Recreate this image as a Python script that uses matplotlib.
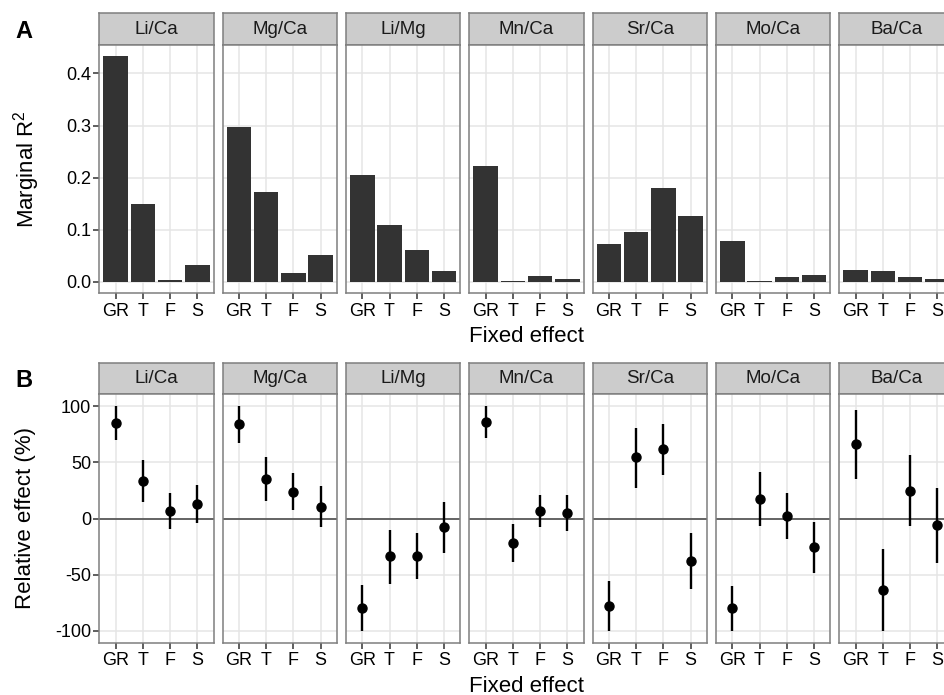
"""
Two rows of faceted panels: marginal R^2 per fixed effect (A) and
relative effect (%) with intervals (B) for seven element ratios.
"""
import matplotlib
matplotlib.use("Agg")
import matplotlib.pyplot as plt

plt.rcParams["font.family"] = ["Liberation Sans", "DejaVu Sans"]
plt.rcParams["axes.unicode_minus"] = False
plt.rcParams["mathtext.fontset"] = "custom"
plt.rcParams["mathtext.rm"] = "Liberation Sans"
plt.rcParams["mathtext.it"] = "Liberation Sans"

ratios = ["Li/Ca", "Mg/Ca", "Li/Mg", "Mn/Ca", "Sr/Ca", "Mo/Ca", "Ba/Ca"]
effects = ["GR", "T", "F", "S"]

# panel A: marginal R2, one row per ratio (GR, T, F, S)
r2_lica = [0.433, 0.149, 0.003, 0.032]
r2_mgca = [0.297, 0.172, 0.017, 0.051]
r2_limg = [0.205, 0.109, 0.061, 0.021]
r2_mnca = [0.222, 0.001, 0.011, 0.005]
r2_srca = [0.072, 0.095, 0.180, 0.126]
r2_moca = [0.078, 0.001, 0.009, 0.013]
r2_baca = [0.022, 0.020, 0.009, 0.005]
r2_all = [r2_lica, r2_mgca, r2_limg, r2_mnca, r2_srca, r2_moca, r2_baca]

# panel B: relative effect (%) estimate, lower, upper
eff_lica = [84.9, 33.5, 6.8, 12.8]
lo_lica = [69.7, 14.8, -8.9, -3.9]
hi_lica = [100.0, 51.9, 22.3, 29.7]
eff_mgca = [83.7, 35.0, 24.0, 10.4]
lo_mgca = [67.4, 15.4, 7.4, -8.0]
hi_mgca = [100.0, 54.6, 40.7, 28.8]
eff_limg = [-79.5, -33.8, -33.2, -7.7]
lo_limg = [-100.0, -57.9, -54.0, -30.6]
hi_limg = [-59.3, -9.8, -12.8, 14.8]
eff_mnca = [86.1, -21.7, 6.5, 5.0]
lo_mnca = [71.8, -38.6, -7.4, -11.0]
hi_mnca = [100.0, -5.0, 21.1, 20.8]
eff_srca = [-77.7, 54.3, 61.4, -37.4]
lo_srca = [-100.0, 27.3, 38.6, -62.6]
hi_srca = [-55.5, 80.4, 83.7, -12.5]
eff_moca = [-79.8, 17.2, 2.4, -25.5]
lo_moca = [-100.0, -6.5, -18.1, -48.7]
hi_moca = [-59.9, 41.2, 22.6, -3.3]
eff_baca = [65.9, -63.2, 24.9, -5.9]
lo_baca = [35.0, -100.0, -6.5, -39.5]
hi_baca = [96.4, -26.7, 56.7, 27.0]
eff_all = [eff_lica, eff_mgca, eff_limg, eff_mnca, eff_srca, eff_moca, eff_baca]
lo_all = [lo_lica, lo_mgca, lo_limg, lo_mnca, lo_srca, lo_moca, lo_baca]
hi_all = [hi_lica, hi_mgca, hi_limg, hi_mnca, hi_srca, hi_moca, hi_baca]

W, H = 944, 695
GRID = "#E5E5E5"
BORDER = "#7F7F7F"
TICK_FS = 13
STRIP_FS = 13.5
TITLE_FS = 16


def px_axes(fig, x0, y0, w, h):
    """Add axes from pixel box (top-left origin)."""
    return fig.add_axes([x0 / W, 1 - (y0 + h) / H, w / W, h / H])


def style_panel(ax, yticks, ylim, show_y):
    ax.set_xlim(0.4, 4.6)
    ax.set_ylim(*ylim)
    ax.set_xticks(range(1, 5))
    ax.set_xticklabels(effects)
    ax.set_yticks(yticks)
    ax.grid(True, color=GRID, lw=1.1, zorder=0)
    ax.set_axisbelow(True)
    for s in ax.spines.values():
        s.set_color(BORDER)
        s.set_linewidth(1.1)
        s.set_zorder(5)
    ax.tick_params(length=4, width=1.1, color="#333333", pad=2.0,
                   labelsize=TICK_FS, labelcolor="black")
    ax.tick_params(axis="x", pad=3.0)
    if not show_y:
        ax.tick_params(axis="y", left=False, labelleft=False)


def add_strip(fig, x0, y0, w, h, label):
    sax = px_axes(fig, x0, y0, w, h)
    sax.set_facecolor("#CCCCCC")
    sax.set_xticks([])
    sax.set_yticks([])
    for s in sax.spines.values():
        s.set_color(BORDER)
        s.set_linewidth(1.1)
    sax.text(0.5, 0.5, label, ha="center", va="center",
             fontsize=STRIP_FS, color="#1A1A1A", transform=sax.transAxes)


fig = plt.figure(figsize=(W / 100, H / 100), dpi=100)

x_start, step, pw = 99.3, 123.33, 114.4
rowA = dict(strip=13.0, top=45.0, bottom=293.0)
rowB = dict(strip=362.7, top=394.3, bottom=642.7)

for k, name in enumerate(ratios):
    x0 = x_start + k * step

    # row A: bars
    add_strip(fig, x0, rowA["strip"], pw, rowA["top"] - rowA["strip"], name)
    ax = px_axes(fig, x0, rowA["top"], pw, rowA["bottom"] - rowA["top"])
    ax.bar(range(1, 5), r2_all[k], width=0.9, color="#333333", zorder=3)
    style_panel(ax, [0.0, 0.1, 0.2, 0.3, 0.4], (-0.0217, 0.4547), k == 0)
    if k == 0:
        ax.set_yticklabels(["0.0", "0.1", "0.2", "0.3", "0.4"])

    # row B: points with intervals
    add_strip(fig, x0, rowB["strip"], pw, rowB["top"] - rowB["strip"], name)
    bx = px_axes(fig, x0, rowB["top"], pw, rowB["bottom"] - rowB["top"])
    bx.axhline(0, color="#404040", lw=1.1, zorder=2)
    bx.vlines(range(1, 5), lo_all[k], hi_all[k], color="black", lw=1.7, zorder=3)
    bx.plot(range(1, 5), eff_all[k], "o", color="black", ms=6.5, zorder=4)
    style_panel(bx, [-100, -50, 0, 50, 100], (-110.5, 110.5), k == 0)

# labels
mid_x = (x_start + 6 * step + pw + x_start) / 2 / W
fig.text(mid_x, 1 - 336 / H, "Fixed effect", ha="center", va="center", fontsize=TITLE_FS)
fig.text(mid_x, 1 - 686 / H, "Fixed effect", ha="center", va="center", fontsize=TITLE_FS)
fig.text(27 / W, 1 - 169 / H, r"Marginal R$^{2}$", rotation=90, ha="center",
         va="center", fontsize=TITLE_FS)
fig.text(26 / W, 1 - 518 / H, "Relative effect (%)", rotation=90, ha="center",
         va="center", fontsize=TITLE_FS)
fig.text(24 / W, 1 - 32 / H, "A", ha="center", va="center", fontsize=17, fontweight="bold")
fig.text(24 / W, 1 - 380 / H, "B", ha="center", va="center", fontsize=17, fontweight="bold")

fig.savefig("out.png", dpi=100)
